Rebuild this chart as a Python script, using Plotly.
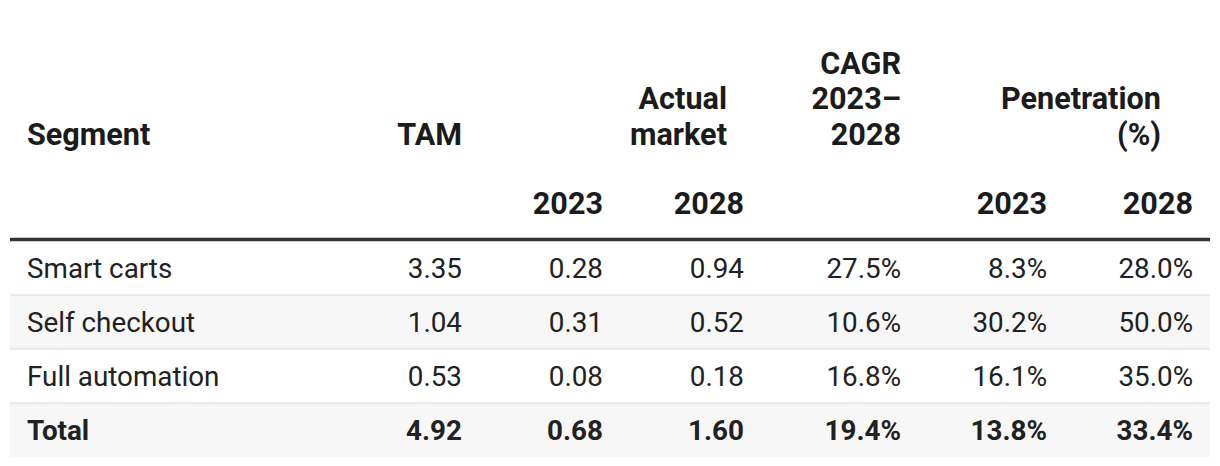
import plotly.graph_objects as go

# ---- data ----
segments = ["Smart carts", "Self checkout", "Full automation", "Total"]
tam = [3.35, 1.04, 0.53, 4.92]
actual_2023 = [0.28, 0.31, 0.08, 0.68]
actual_2028 = [0.94, 0.52, 0.18, 1.60]
cagr = [27.5, 10.6, 16.8, 19.4]
pen_2023 = [8.3, 30.2, 16.1, 13.8]
pen_2028 = [28.0, 50.0, 35.0, 33.4]
year_labels = ["2023", "2028"]

# ---- layout constants (pixels) ----
W, H = 1220, 466
TABLE_L, TABLE_R = 10, 1210
FONT = "Roboto, Arial, sans-serif"
FS = 27.8
FS_HDR = 30.6
TXT = "#212121"
HDR = "#1b1b1b"
TXT_DY = 3  # baseline correction for vertical centring
# right edges of numeric columns
col_right = [462, 603, 744, 901, 1047, 1193]
seg_left = 27
row_top = 241
row_h = 54
n_rows = len(segments)
row_centers = [row_top + row_h * (i + 0.5) + TXT_DY for i in range(n_rows)]
hdr_lines = [66, 101.5, 137]
year_y = 206.5

fig = go.Figure()

# row backgrounds / separators
shapes = []
for i in range(n_rows):
    y0 = row_top + i * row_h
    if i % 2 == 1:
        shapes.append(dict(type="rect", xref="x", yref="y", x0=TABLE_L, x1=TABLE_R,
                           y0=y0, y1=y0 + row_h, fillcolor="#f7f7f7", line=dict(width=0), layer="below"))
    if i > 0:
        shapes.append(dict(type="line", xref="x", yref="y", x0=TABLE_L, x1=TABLE_R,
                           y0=y0, y1=y0, line=dict(color="#e4e4e4", width=1.6)))
shapes.append(dict(type="line", xref="x", yref="y", x0=TABLE_L, x1=TABLE_R,
                   y0=row_top - 1.5, y1=row_top - 1.5, line=dict(color="#333333", width=3.5)))


def fmt2(v):
    return f"{v:.2f}"


def fmtp(v):
    return f"{v:.1f}%"


def style(texts):
    return [f"<b>{t}</b>" if i == n_rows - 1 else t for i, t in enumerate(texts)]


# segment column (left aligned)
fig.add_trace(go.Scatter(x=[seg_left] * n_rows, y=row_centers, mode="text",
                         text=style(segments), textposition="middle right",
                         textfont=dict(family=FONT, size=FS, color=TXT),
                         hoverinfo="skip", showlegend=False))

cols = [
    [fmt2(v) for v in tam],
    [fmt2(v) for v in actual_2023],
    [fmt2(v) for v in actual_2028],
    [fmtp(v) for v in cagr],
    [fmtp(v) for v in pen_2023],
    [fmtp(v) for v in pen_2028],
]
for xr, texts in zip(col_right, cols):
    fig.add_trace(go.Scatter(x=[xr] * n_rows, y=row_centers, mode="text",
                             text=style(texts), textposition="middle left",
                             textfont=dict(family=FONT, size=FS, color=TXT),
                             hoverinfo="skip", showlegend=False))

# header texts (right-aligned except Segment)
hdr_right = [
    ("TAM", col_right[0], hdr_lines[2]),
    ("Actual", 727, hdr_lines[1]),
    ("market", 727, hdr_lines[2]),
    ("CAGR", col_right[3], hdr_lines[0]),
    ("2023–", col_right[3], hdr_lines[1]),
    ("2028", col_right[3], hdr_lines[2]),
    ("Penetration", 1161, hdr_lines[1]),
    ("(%)", 1161, hdr_lines[2]),
    (year_labels[0], col_right[1], year_y),
    (year_labels[1], col_right[2], year_y),
    (year_labels[0], col_right[4], year_y),
    (year_labels[1], col_right[5], year_y),
]
fig.add_trace(go.Scatter(x=[h[1] for h in hdr_right], y=[h[2] for h in hdr_right], mode="text",
                         text=[f"<b>{h[0]}</b>" for h in hdr_right], textposition="middle left",
                         textfont=dict(family=FONT, size=FS_HDR, color=HDR),
                         hoverinfo="skip", showlegend=False))
fig.add_trace(go.Scatter(x=[seg_left], y=[hdr_lines[2]], mode="text",
                         text=["<b>Segment</b>"], textposition="middle right",
                         textfont=dict(family=FONT, size=FS_HDR, color=HDR),
                         hoverinfo="skip", showlegend=False))

fig.update_layout(
    width=W, height=H,
    margin=dict(l=0, r=0, t=0, b=0),
    paper_bgcolor="white", plot_bgcolor="white",
    xaxis=dict(range=[0, W], visible=False, fixedrange=True),
    yaxis=dict(range=[H, 0], visible=False, fixedrange=True),
    shapes=shapes,
)

fig.write_html("out.html", config={"displayModeBar": False},
               post_script="document.body.style.margin='0';document.body.style.overflow='hidden';")
